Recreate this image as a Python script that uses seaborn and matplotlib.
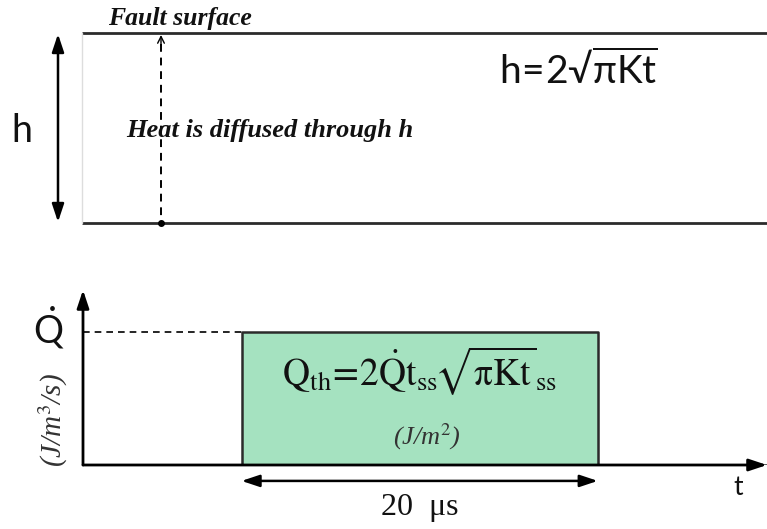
import matplotlib
matplotlib.use("Agg")
import matplotlib.pyplot as plt
import numpy as np
import pandas as pd
import seaborn as sns

# Heat pulse: rate level and timing (microseconds)
pulse_start_us = 8.9
pulse_duration_us = 20.0
t_axis_max_us = 38.4
qdot_level = 1.0
qdot_axis_max = 1.32

pulse_t = [0.0, pulse_start_us, pulse_start_us,
           pulse_start_us + pulse_duration_us, pulse_start_us + pulse_duration_us,
           t_axis_max_us]
pulse_q = [0.0, 0.0, qdot_level, qdot_level, 0.0, 0.0]

sns.set_theme(style="white")
plt.rcParams["font.family"] = ["Lato", "DejaVu Sans"]
plt.rcParams["mathtext.rm"] = "Lato"
plt.rcParams["mathtext.it"] = "Lato:italic"
plt.rcParams["mathtext.bf"] = "Lato:bold"

INK = "#2b2b2b"
GREEN = "#a5e2c0"

W, H = 767, 529
fig = plt.figure(figsize=(W / 100, H / 100), dpi=100)
fig.patch.set_facecolor("white")

# Schematic layer in pixel units
ax = fig.add_axes([0, 0, 1, 1])
ax.set_xlim(0, W)
ax.set_ylim(H, 0)
ax.axis("off")

# Fault zone slab
ax.plot([82, W], [33, 33], color=INK, lw=2.0, solid_capstyle="butt")
ax.plot([82, W], [223, 223], color=INK, lw=2.0, solid_capstyle="butt")
ax.plot([82, 82], [33, 223], color="#dddddd", lw=1.0)

# Thickness arrow and label
ax.annotate("", xy=(58, 34), xytext=(58, 222),
            arrowprops=dict(arrowstyle="<|-|>,head_length=0.9,head_width=0.3",
                            color="black", lw=1.8, shrinkA=0, shrinkB=0))
ax.text(22, 131, "h", fontsize=27, ha="center", va="center", color="#111111")

# Diffusion path
ax.plot([161, 161], [44, 223], color="black", lw=1.4, ls=(0, (4, 3)))
ax.annotate("", xy=(161, 35), xytext=(161, 46),
            arrowprops=dict(arrowstyle="->,head_length=0.4,head_width=0.2",
                            color="black", lw=1.0, shrinkA=0, shrinkB=0))
ax.plot([161], [223], marker="o", ms=4, color="black")

serif_bi = dict(family=["Liberation Serif", "DejaVu Serif"], style="italic",
                weight="bold", color="#111111")
ax.text(108, 19, "Fault surface", fontsize=18.5, ha="left", va="center", **serif_bi)
ax.text(126, 131, "Heat is diffused through h", fontsize=19, ha="left",
        va="center", **serif_bi)

ax.text(578, 70, r"$\mathrm{h\!=\!2}$√$\overline{\mathrm{\pi Kt}}$", fontsize=28,
        ha="center", va="center", color="#111111", math_fontfamily="custom")

# Pulse panel in physical units
x0, x1, y0, y1 = 83, W, 465, 290
pax = fig.add_axes([x0 / W, (H - y0) / H, (x1 - x0) / W, (y0 - y1) / H])
pax.set_xlim(0, t_axis_max_us)
pax.set_ylim(0, qdot_axis_max)
pax.axis("off")
pax.patch.set_alpha(0)

pulse = pd.DataFrame({"t_us": pulse_t, "qdot": pulse_q})
pax.fill_between(pulse["t_us"], pulse["qdot"], color=GREEN, lw=0, zorder=1)
sns.lineplot(data=pulse, x="t_us", y="qdot", sort=False, color=INK, lw=1.8,
             ax=pax, zorder=2, estimator=None)

# Axes with arrowheads
pax.annotate("", xy=(0, qdot_axis_max), xytext=(0, 0), xycoords="data",
             arrowprops=dict(arrowstyle="-|>,head_length=0.9,head_width=0.3",
                             color="black", lw=2.0, shrinkA=0, shrinkB=0),
             annotation_clip=False)
pax.annotate("", xy=(t_axis_max_us, 0), xytext=(0, 0), xycoords="data",
             arrowprops=dict(arrowstyle="-|>,head_length=0.9,head_width=0.3",
                             color="black", lw=2.0, shrinkA=0, shrinkB=0),
             annotation_clip=False)

# Level guide
pax.plot([0, pulse_start_us], [qdot_level, qdot_level], color="black", lw=1.2,
         ls=(0, (4, 3)))

# Duration arrow
pulse_end = pulse_start_us + pulse_duration_us
pax.annotate("", xy=(pulse_start_us, -0.12), xytext=(pulse_end, -0.12),
             arrowprops=dict(arrowstyle="<|-|>,head_length=0.9,head_width=0.3",
                             color="black", lw=1.8, shrinkA=0, shrinkB=0),
             annotation_clip=False)

serif = ["Liberation Serif", "DejaVu Serif"]
pax.text(pulse_start_us + pulse_duration_us / 2, -0.32, "20  μs", fontsize=23,
         ha="center", va="center", family=serif, color="#111111",
         clip_on=False)
pax.text(t_axis_max_us - 1.6, -0.17, "t", fontsize=19, ha="center", va="center",
         color="#111111", clip_on=False)

# Energy per area inside the pulse
pax.text(pulse_start_us + pulse_duration_us / 2, 0.71,
         r"$\mathrm{Q_{th}\!=\!2\dot{Q}t_{ss}\!\sqrt{\pi Kt}_{ss}}$", fontsize=27,
         ha="center", va="center", color="#111111", math_fontfamily="stix")
pax.text(pulse_start_us + pulse_duration_us / 2 + 0.4, 0.21, r"(J/m$^2$)",
         fontsize=19, ha="center", va="center", family=serif, style="italic",
         color="#333333", math_fontfamily="stix")

# Y-axis label
ax.text(49, 328, r"$\dot{\mathrm{Q}}$", fontsize=27, ha="center", va="center",
        color="#111111", math_fontfamily="custom")
ax.text(53, 420, r"(J/m$^3$/s)", fontsize=21, rotation=90, ha="center",
        va="center", family=serif, style="italic", color="#333333",
        math_fontfamily="stix")

fig.savefig("out.png", dpi=100, facecolor="white")
